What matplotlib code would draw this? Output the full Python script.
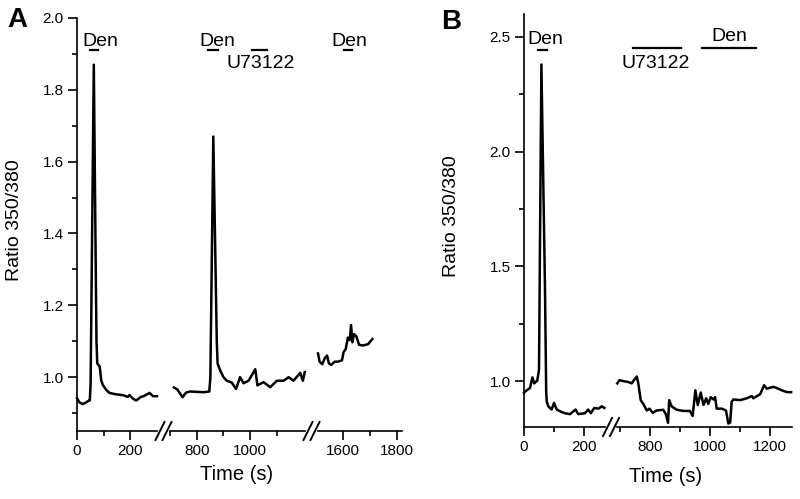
import matplotlib
matplotlib.use("Agg")
import matplotlib.pyplot as plt
from matplotlib.lines import Line2D

plt.rcParams['font.family'] = ['Liberation Sans', 'DejaVu Sans']

# Panel A: three recording segments (time s, ratio 350/380)
a1_t = [0, 10, 22, 35, 45, 48, 51, 63, 73, 76, 85, 91, 97, 110, 122, 147, 172, 190, 197,
        210, 222, 240, 250, 272, 285, 300]
a1_r = [0.941, 0.929, 0.925, 0.93, 0.935, 0.935, 0.98, 1.87, 1.1, 1.038, 1.03, 0.99, 0.978,
        0.964, 0.956, 0.952, 0.95, 0.945, 0.95, 0.94, 0.935, 0.945, 0.947, 0.956, 0.947, 0.947]

a2_t = [715, 727, 737, 747, 760, 775, 800, 825, 847, 851, 862, 875, 878, 887, 900, 912, 931,
        947, 962, 975, 994, 1019, 1027, 1050, 1075, 1100, 1125, 1144, 1162, 1187, 1197, 1204]
a2_r = [0.971, 0.966, 0.955, 0.944, 0.957, 0.96, 0.959, 0.958, 0.96, 1.0, 1.67, 1.1, 1.038,
        1.02, 1.0, 0.99, 0.985, 0.967, 1.0, 0.983, 0.99, 1.022, 0.977, 0.986, 0.972, 0.99, 0.99,
        1.0, 0.99, 1.012, 0.99, 1.014]

a3_t = [1505, 1511, 1521, 1530, 1539, 1546, 1555, 1567, 1580, 1595, 1601, 1609, 1617, 1624,
        1629, 1634, 1640, 1649, 1659, 1674, 1693, 1709]
a3_r = [1.066, 1.043, 1.036, 1.052, 1.06, 1.038, 1.034, 1.043, 1.043, 1.047, 1.07, 1.078,
        1.11, 1.103, 1.145, 1.097, 1.12, 1.113, 1.09, 1.088, 1.092, 1.106]

# Panel B: two segments
b1_t = [0, 9, 20, 28, 34, 42, 44, 50, 58, 70, 74, 76, 81, 92, 100, 109, 126, 137, 153, 172,
        181, 203, 214, 223, 234, 248, 259, 268]
b1_r = [0.949, 0.96, 0.97, 1.016, 0.99, 1.0, 1.0, 1.05, 2.38, 1.4, 0.95, 0.91, 0.89, 0.876,
        0.905, 0.876, 0.865, 0.86, 0.856, 0.876, 0.856, 0.86, 0.876, 0.86, 0.883, 0.88, 0.89,
        0.883]

b2_t = [691, 698, 711, 728, 739, 744, 756, 761, 769, 778, 789, 798, 809, 822, 844, 853, 860,
        864, 872, 889, 911, 933, 942, 951, 959, 969, 978, 987, 994, 1002, 1011, 1017, 1022,
        1039, 1053, 1061, 1067, 1072, 1078, 1100, 1122, 1139, 1144, 1167, 1180, 1189, 1211,
        1222, 1239, 1256, 1270]
b2_r = [0.99, 1.004, 1.0, 0.996, 0.99, 1.0, 1.02, 0.99, 0.917, 0.9, 0.872, 0.88, 0.862,
        0.872, 0.875, 0.855, 0.818, 0.917, 0.89, 0.875, 0.87, 0.87, 0.848, 0.96, 0.896, 0.95,
        0.896, 0.925, 0.9, 0.93, 0.92, 0.93, 0.88, 0.88, 0.872, 0.815, 0.82, 0.91, 0.92, 0.917,
        0.925, 0.935, 0.925, 0.943, 0.982, 0.967, 0.975, 0.97, 0.96, 0.952, 0.952]

# drug application bars (start, end)
a_den1 = (49, 79)
a_den2 = (842, 880)
a_u73 = (1007, 1063)
a_den3 = (1603, 1633)
b_den1 = (47, 77)
b_u73 = (743, 903)
b_den2 = (973, 1153)

W, H = 800, 499
fig = plt.figure(figsize=(W / 100, H / 100), dpi=100)


def add_seg(x0, x1, ytop, ybot, xlim, ylim, major, minor, first=False):
    ax = fig.add_axes([x0 / W, (H - ybot) / H, (x1 - x0) / W, (ybot - ytop) / H])
    ax.set_xlim(*xlim)
    ax.set_ylim(*ylim)
    for s in ['top', 'right']:
        ax.spines[s].set_visible(False)
    ax.spines['bottom'].set_linewidth(1.2)
    ax.spines['left'].set_linewidth(1.2)
    ax.set_xticks(major)
    ax.set_xticks(minor, minor=True)
    ax.tick_params(axis='both', which='major', direction='out', length=6.5, width=1.2,
                   labelsize=11, pad=3)
    ax.tick_params(axis='both', which='minor', direction='out', length=3.5, width=1.2)
    if not first:
        ax.spines['left'].set_visible(False)
        ax.tick_params(axis='y', which='both', left=False, labelleft=False)
    ax.patch.set_alpha(0)
    return ax


def break_mark(cx, y):
    for dx in (-3.5, 3.5):
        x = cx + dx
        fig.add_artist(Line2D([(x - 4.5) / W, (x + 4.5) / W],
                              [(H - y - 9) / H, (H - y + 9) / H],
                              color='black', lw=1.4, transform=fig.transFigure))


def drug(ax, span, y, text=None, tx=None, ty=None):
    ax.plot(span, [y, y], color='black', lw=1.6, clip_on=False)
    if text:
        ax.text(tx, ty, text, ha='center', va='baseline', fontsize=14, clip_on=False)


line_kw = dict(color='black', lw=1.8, clip_on=False)

# ---- panel A ----
ya = (0.85, 2.0)
a1 = add_seg(77, 157, 18, 431, (0, 300), ya, [0, 200], [100], first=True)
a2 = add_seg(170, 305, 18, 431, (700, 1205), ya, [800, 1000], [700, 900, 1100])
a3 = add_seg(318, 402, 18, 431, (1505, 1820), ya, [1600, 1800], [1700])
a1.set_yticks([1.0, 1.2, 1.4, 1.6, 1.8, 2.0])
a1.set_yticks([0.9, 1.1, 1.3, 1.5, 1.7, 1.9], minor=True)
a1.set_yticklabels(['1.0', '1.2', '1.4', '1.6', '1.8', '2.0'])
a1.plot(a1_t, a1_r, **line_kw)
a2.plot(a2_t, a2_r, **line_kw)
a3.plot(a3_t, a3_r, **line_kw)
drug(a1, a_den1, 1.911, 'Den', 86, 1.922)
drug(a2, a_den2, 1.911, 'Den', 878, 1.922)
drug(a2, a_u73, 1.911, 'U73122', 1041, 1.861)
drug(a3, a_den3, 1.911, 'Den', 1623, 1.922)
break_mark(163.5, 431)
break_mark(311.5, 431)

# ---- panel B ----
yb = (0.8, 2.6)
b1 = add_seg(524, 605, 14, 427, (0, 270), yb, [0, 200], [100], first=True)
b2 = add_seg(617, 792, 14, 427, (690, 1273), yb, [800, 1000, 1200], [700, 900, 1100])
b1.set_yticks([1.0, 1.5, 2.0, 2.5])
b1.set_yticks([1.25, 1.75, 2.25], minor=True)
b1.set_yticklabels(['1.0', '1.5', '2.0', '2.5'])
b1.plot(b1_t, b1_r, **line_kw)
b2.plot(b2_t, b2_r, **line_kw)
drug(b1, b_den1, 2.443, 'Den', 70, 2.47)
drug(b2, b_u73, 2.452, 'U73122', 820, 2.365)
drug(b2, b_den2, 2.452, 'Den', 1065, 2.483)
break_mark(611, 427)

# labels
fig.text(17 / W, (H - 20) / H, 'A', fontsize=20, fontweight='bold', ha='center', va='center')
fig.text(451 / W, (H - 22) / H, 'B', fontsize=20, fontweight='bold', ha='center', va='center')
fig.text(15 / W, (H - 220) / H, 'Ratio 350/380', fontsize=14, rotation=90,
         ha='center', va='center')
fig.text(452 / W, (H - 216) / H, 'Ratio 350/380', fontsize=14, rotation=90,
         ha='center', va='center')
fig.text(237 / W, (H - 474) / H, 'Time (s)', fontsize=14.5, ha='center', va='center')
fig.text(666 / W, (H - 477) / H, 'Time (s)', fontsize=14.5, ha='center', va='center')

fig.savefig('out.png', dpi=100)
